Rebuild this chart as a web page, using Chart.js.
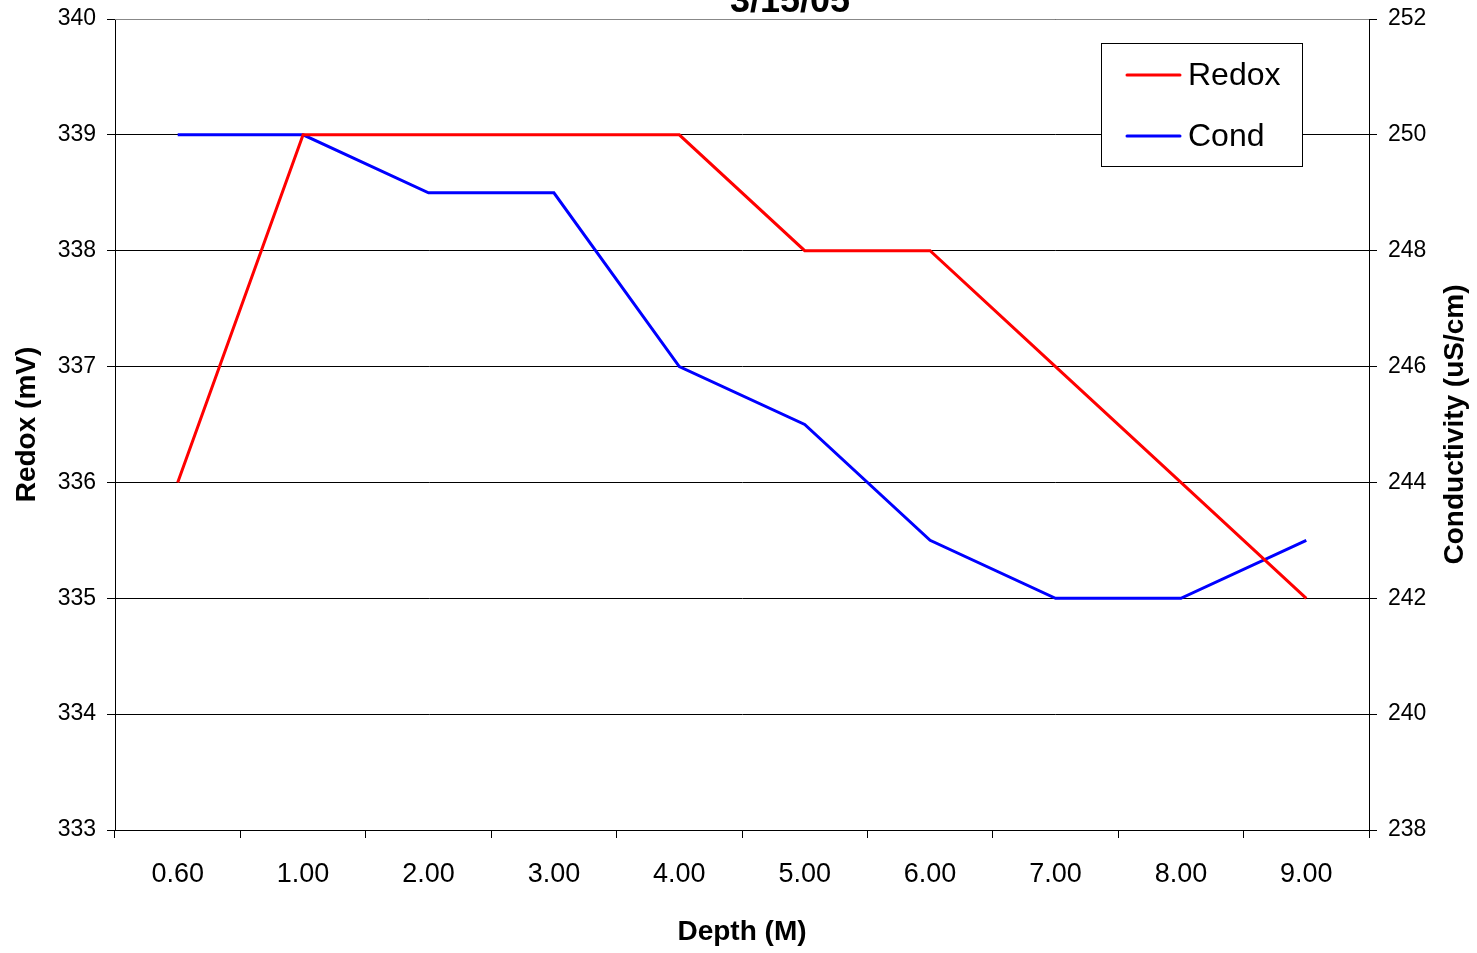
<!DOCTYPE html>
<html>
<head>
<meta charset="utf-8">
<script src="https://cdn.jsdelivr.net/npm/chart.js@4.4.1/dist/chart.umd.min.js"></script>
<style>
  html, body { margin: 0; padding: 0; background: #fff; }
  canvas { display: block; }
</style>
</head>
<body>
<canvas id="chart" width="1477" height="953"></canvas>
<script>
// data
const depths = ['0.60', '1.00', '2.00', '3.00', '4.00', '5.00', '6.00', '7.00', '8.00', '9.00'];
const redox = [336, 339, 339, 339, 339, 338, 338, 337, 336, 335];
const cond = [250, 250, 249, 249, 246, 245, 243, 242, 242, 243];
const redoxRange = [333, 340];
const condRange = [238, 252];

const FONT = "'Liberation Sans', Arial, sans-serif";

// title, right axis title (reads bottom-to-top) and the boxed legend
const extras = {
  id: 'extras',
  afterDraw(chart) {
    const ctx = chart.ctx;
    const area = chart.chartArea;
    ctx.save();
    // grey plot-area top border
    ctx.strokeStyle = '#888';
    ctx.lineWidth = 1;
    ctx.beginPath();
    ctx.moveTo(area.left, Math.round(area.top) + 0.5);
    ctx.lineTo(area.right, Math.round(area.top) + 0.5);
    ctx.stroke();

    ctx.fillStyle = '#000';
    ctx.font = 'bold 36px ' + FONT;
    ctx.textAlign = 'center';
    ctx.textBaseline = 'alphabetic';
    ctx.fillText('3/15/05', 790, 12);

    ctx.save();
    ctx.translate(1455, (area.top + area.bottom) / 2);
    ctx.rotate(-Math.PI / 2);
    ctx.font = 'bold 28px ' + FONT;
    ctx.textBaseline = 'middle';
    ctx.fillText('Conductivity (uS/cm)', 0, 0);
    ctx.restore();

    // legend
    const bx = 1101, by = 43, bw = 201, bh = 123;
    ctx.fillStyle = '#fff';
    ctx.fillRect(bx, by, bw, bh);
    ctx.strokeStyle = '#000';
    ctx.strokeRect(bx + 0.5, by + 0.5, bw, bh);
    ctx.font = '32px ' + FONT;
    ctx.textAlign = 'left';
    ctx.textBaseline = 'middle';
    chart.data.datasets.forEach((ds, i) => {
      const y = 75 + i * 61;
      ctx.strokeStyle = ds.borderColor;
      ctx.lineWidth = 3;
      ctx.lineCap = 'round';
      ctx.beginPath();
      ctx.moveTo(1127, y);
      ctx.lineTo(1180, y);
      ctx.stroke();
      ctx.fillStyle = '#000';
      ctx.fillText(ds.label, 1188, y + 1);
    });
    ctx.restore();
  }
};

function fixY(width) {
  return function (s) {
    s.width = width;
    s.paddingTop = 0;
    s.paddingBottom = 0;
  };
}

new Chart(document.getElementById('chart').getContext('2d'), {
  type: 'line',
  data: {
    labels: depths,
    datasets: [
      { label: 'Redox', data: redox, yAxisID: 'y', borderColor: '#ff0000', borderWidth: 3, pointRadius: 0, tension: 0, fill: false },
      { label: 'Cond', data: cond, yAxisID: 'y1', borderColor: '#0000ff', borderWidth: 3, pointRadius: 0, tension: 0, fill: false }
    ]
  },
  options: {
    responsive: false,
    animation: false,
    layout: { padding: { top: 19, left: 0, right: 0, bottom: 0 } },
    plugins: { legend: { display: false }, title: { display: false }, tooltip: { enabled: false } },
    scales: {
      x: {
        offset: true,
        grid: { offset: true, drawOnChartArea: false, color: '#000', tickLength: 8 },
        border: { color: '#000', width: 1 },
        ticks: { color: '#000', font: { family: FONT, size: 27 }, padding: 20, maxRotation: 0 },
        title: { display: true, text: 'Depth (M)', color: '#000', font: { family: FONT, size: 28, weight: 'bold' }, padding: { top: 0, bottom: 4 } },
        afterFit(s) { s.height = 123; s.paddingLeft = 0; s.paddingRight = 0; }
      },
      y: {
        position: 'left',
        min: redoxRange[0], max: redoxRange[1],
        ticks: { stepSize: 1, color: '#000', font: { family: FONT, size: 23 }, padding: 11 },
        grid: { color: '#000', lineWidth: 1, tickLength: 8 },
        border: { color: '#000', width: 1 },
        title: { display: true, text: 'Redox (mV)', color: '#000', font: { family: FONT, size: 28, weight: 'bold' }, padding: { top: 10, bottom: 0 } },
        afterFit: fixY(115)
      },
      y1: {
        position: 'right',
        min: condRange[0], max: condRange[1],
        ticks: { stepSize: 2, color: '#000', font: { family: FONT, size: 23 }, padding: 11 },
        grid: { drawOnChartArea: false, color: '#000', tickLength: 8 },
        border: { color: '#000', width: 1 },
        afterFit: fixY(108)
      }
    }
  },
  plugins: [extras]
});
</script>
</body>
</html>
